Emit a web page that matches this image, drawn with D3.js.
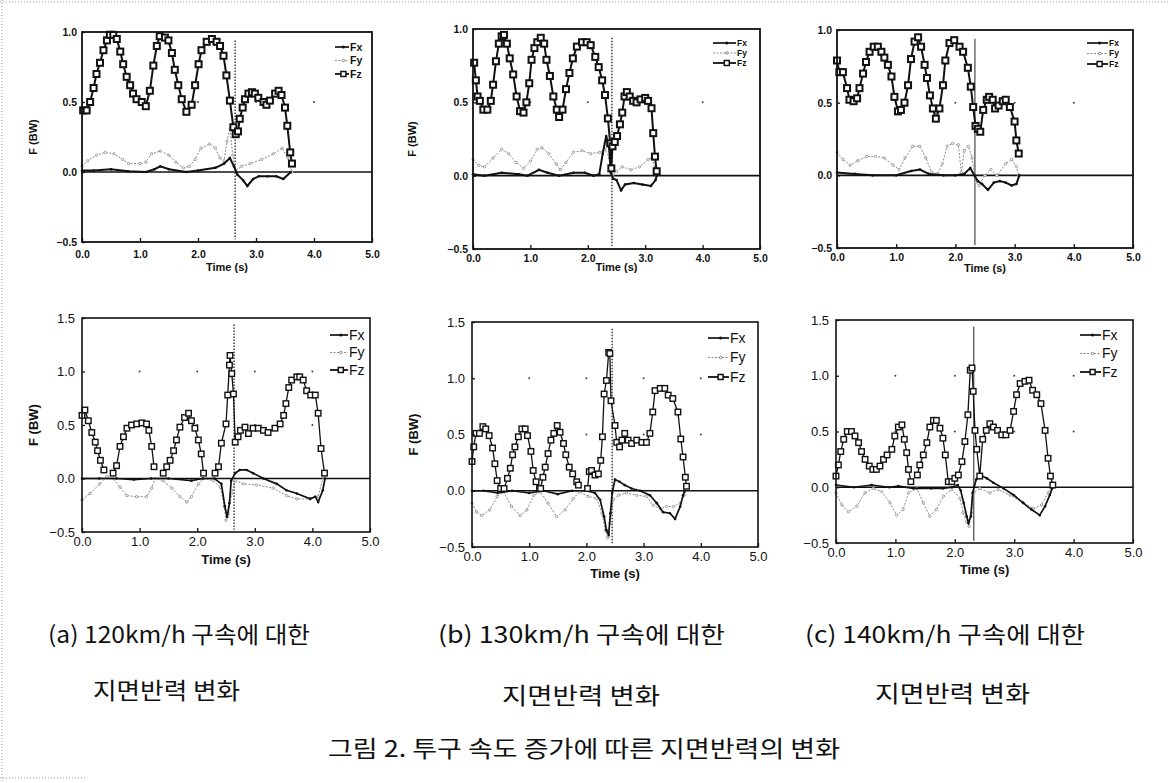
<!DOCTYPE html>
<html>
<head>
<meta charset="utf-8">
<script src="https://cdn.jsdelivr.net/npm/d3@7"></script>
<style>
  html, body { margin: 0; padding: 0; background: #fff; }
  svg { display: block; }
</style>
</head>
<body>
<svg id="fig" width="1168" height="783"></svg>
<script>
// ---- data (time s, force BW) ----
const xTickValues = [0, 1, 2, 3, 4, 5]
const topYTickValues = [-0.5, 0, 0.5, 1.0]
const botYTickValues = [-0.5, 0, 0.5, 1.0, 1.5]
const seriesNames = ['Fx', 'Fy', 'Fz']
const topMarkerT = [2.64, 2.42, 2.33]
const botMarkerT = [2.64, 2.45, 2.32]
const captionLines = [
  ['(a) 120km/h 구속에 대한', '지면반력 변화'],
  ['(b) 130km/h 구속에 대한', '지면반력 변화'],
  ['(c) 140km/h 구속에 대한', '지면반력 변화']
]
const figureTitle = '그림 2. 투구 속도 증가에 따른 지면반력의 변화'

// top row
const topA_Fz = [[0.02,0.44],[0.08,0.44],[0.14,0.50],[0.20,0.60],[0.25,0.70],[0.31,0.78],[0.37,0.87],[0.43,0.94],[0.48,0.98],[0.54,0.98],[0.60,0.95],[0.66,0.86],[0.71,0.77],[0.77,0.68],[0.83,0.62],[0.88,0.56],[0.94,0.52],[1.03,0.50],[1.10,0.47],[1.17,0.58],[1.23,0.76],[1.29,0.90],[1.34,0.97],[1.43,0.96],[1.49,0.94],[1.55,0.85],[1.60,0.73],[1.66,0.62],[1.72,0.52],[1.80,0.43],[1.89,0.48],[1.95,0.62],[2.01,0.77],[2.06,0.87],[2.15,0.93],[2.24,0.95],[2.32,0.93],[2.38,0.90],[2.44,0.83],[2.49,0.69],[2.55,0.51],[2.61,0.32],[2.65,0.27],[2.69,0.29],[2.72,0.38],[2.77,0.46],[2.81,0.52],[2.87,0.56],[2.93,0.57],[2.98,0.56],[3.04,0.53],[3.13,0.50],[3.18,0.48],[3.24,0.51],[3.33,0.56],[3.39,0.58],[3.44,0.55],[3.50,0.46],[3.54,0.33],[3.59,0.14],[3.62,0.06]]
const topA_Fy = [[0.0,0.04],[0.1,0.08],[0.25,0.12],[0.4,0.14],[0.55,0.13],[0.7,0.09],[0.8,0.06],[1.0,0.06],[1.1,0.07],[1.2,0.13],[1.35,0.15],[1.5,0.12],[1.62,0.07],[1.75,0.03],[1.85,0.04],[1.95,0.09],[2.05,0.17],[2.2,0.20],[2.3,0.17],[2.38,0.10],[2.45,0.08],[2.5,0.22],[2.55,0.31],[2.6,0.12],[2.65,0.01],[2.75,0.04],[2.9,0.06],[3.1,0.09],[3.3,0.13],[3.45,0.17],[3.55,0.10],[3.62,0.0]]
const topA_Fx = [[0.0,0.01],[0.2,0.01],[0.5,0.02],[0.8,0.005],[1.1,0.0],[1.25,0.02],[1.35,0.04],[1.5,0.02],[1.8,0.0],[2.0,0.01],[2.3,0.03],[2.45,0.06],[2.55,0.1],[2.62,0.04],[2.68,-0.02],[2.78,-0.06],[2.85,-0.1],[2.95,-0.05],[3.05,-0.03],[3.2,-0.03],[3.35,-0.03],[3.47,-0.05],[3.6,0.0]]

const topB_Fz = [[0.02,0.77],[0.05,0.65],[0.08,0.54],[0.12,0.51],[0.18,0.45],[0.25,0.45],[0.31,0.51],[0.35,0.62],[0.40,0.78],[0.45,0.90],[0.50,0.95],[0.54,0.96],[0.59,0.90],[0.64,0.80],[0.70,0.69],[0.76,0.54],[0.82,0.44],[0.88,0.43],[0.93,0.50],[0.98,0.63],[1.02,0.79],[1.07,0.87],[1.12,0.91],[1.18,0.94],[1.24,0.90],[1.28,0.79],[1.34,0.68],[1.40,0.54],[1.46,0.45],[1.50,0.40],[1.56,0.45],[1.62,0.59],[1.68,0.70],[1.74,0.80],[1.81,0.88],[1.90,0.91],[1.98,0.91],[2.05,0.89],[2.13,0.81],[2.19,0.74],[2.25,0.65],[2.30,0.55],[2.35,0.39],[2.39,0.22],[2.41,0.05],[2.43,0.20],[2.47,0.23],[2.51,0.27],[2.56,0.35],[2.60,0.43],[2.64,0.54],[2.68,0.57],[2.73,0.54],[2.79,0.51],[2.85,0.50],[2.92,0.52],[3.00,0.53],[3.05,0.51],[3.11,0.46],[3.14,0.29],[3.17,0.13],[3.20,0.03]]
const topB_Fy = [[0.0,0.11],[0.1,0.07],[0.2,0.06],[0.35,0.12],[0.5,0.18],[0.62,0.15],[0.75,0.09],[0.88,0.05],[1.0,0.10],[1.12,0.18],[1.2,0.19],[1.32,0.15],[1.45,0.08],[1.52,0.04],[1.62,0.09],[1.75,0.16],[1.9,0.17],[2.05,0.15],[2.2,0.16],[2.3,0.18],[2.38,0.12],[2.43,0.0],[2.5,0.03],[2.6,0.06],[2.75,0.04],[2.9,0.06],[3.05,0.11],[3.12,0.12],[3.17,0.05],[3.2,0.0]]
const topB_Fx = [[0.0,0.01],[0.2,0.0],[0.5,0.02],[0.8,0.01],[0.95,0.0],[1.15,0.04],[1.3,0.02],[1.5,0.0],[1.75,0.02],[1.95,0.02],[2.1,0.0],[2.2,0.01],[2.26,0.15],[2.32,0.27],[2.37,0.2],[2.4,0.02],[2.44,-0.02],[2.5,-0.03],[2.58,-0.1],[2.65,-0.06],[2.8,-0.05],[2.95,-0.06],[3.1,-0.07],[3.18,-0.03],[3.2,0.0]]

const topC_Fz = [[0.0,0.79],[0.04,0.71],[0.10,0.71],[0.17,0.60],[0.21,0.52],[0.28,0.51],[0.34,0.53],[0.38,0.60],[0.44,0.70],[0.49,0.78],[0.55,0.85],[0.62,0.885],[0.69,0.885],[0.75,0.85],[0.80,0.81],[0.86,0.76],[0.92,0.68],[0.97,0.54],[1.03,0.44],[1.08,0.45],[1.14,0.50],[1.20,0.62],[1.25,0.80],[1.31,0.92],[1.37,0.95],[1.42,0.885],[1.48,0.76],[1.52,0.67],[1.57,0.55],[1.62,0.46],[1.67,0.39],[1.73,0.46],[1.79,0.62],[1.83,0.79],[1.90,0.91],[1.98,0.93],[2.07,0.885],[2.13,0.85],[2.21,0.74],[2.26,0.61],[2.30,0.47],[2.34,0.34],[2.38,0.32],[2.42,0.30],[2.47,0.45],[2.53,0.52],[2.57,0.54],[2.63,0.52],[2.67,0.46],[2.73,0.48],[2.80,0.51],[2.85,0.52],[2.92,0.47],[3.00,0.37],[3.03,0.24],[3.07,0.15]]
const topC_Fy = [[0.0,0.16],[0.1,0.11],[0.22,0.07],[0.35,0.10],[0.5,0.13],[0.65,0.13],[0.8,0.12],[0.95,0.07],[1.05,0.04],[1.15,0.12],[1.28,0.20],[1.4,0.20],[1.5,0.12],[1.6,0.02],[1.7,0.01],[1.78,0.08],[1.86,0.2],[1.95,0.22],[2.05,0.21],[2.1,0.02],[2.15,0.17],[2.22,0.2],[2.28,0.12],[2.35,-0.05],[2.4,-0.07],[2.5,0.0],[2.6,0.04],[2.7,0.0],[2.85,0.08],[2.95,0.11],[3.03,0.06],[3.07,0.0]]
const topC_Fx = [[0.0,0.02],[0.3,0.01],[0.6,0.0],[1.0,0.0],[1.25,0.03],[1.4,0.04],[1.55,0.01],[1.8,0.0],[2.0,0.0],[2.15,0.01],[2.25,0.05],[2.32,0.0],[2.38,-0.04],[2.45,-0.06],[2.55,-0.1],[2.65,-0.05],[2.75,-0.04],[2.85,-0.05],[2.95,-0.07],[3.03,-0.06],[3.08,0.0]]

// bottom row (null = gap between foot contacts)
const botA_Fz = [[0,0.59],[0.05,0.64],[0.11,0.54],[0.17,0.43],[0.23,0.34],[0.27,0.26],[0.32,0.17],[0.38,0.08],null,[0.54,0.05],[0.60,0.12],[0.66,0.30],[0.72,0.39],[0.78,0.47],[0.86,0.50],[0.95,0.51],[1.04,0.52],[1.12,0.51],[1.16,0.45],[1.21,0.30],[1.25,0.11],null,[1.41,0.05],[1.47,0.11],[1.53,0.17],[1.59,0.26],[1.64,0.36],[1.70,0.48],[1.78,0.57],[1.85,0.61],[1.90,0.54],[1.96,0.47],[2.02,0.36],[2.07,0.23],[2.11,0.05],null,[2.31,0.05],[2.37,0.11],[2.42,0.33],[2.50,0.51],[2.53,0.78],[2.56,1.06],[2.57,1.15],[2.60,0.98],[2.63,0.79],[2.66,0.34],[2.71,0.39],[2.75,0.45],[2.83,0.48],[2.89,0.42],[2.97,0.47],[3.06,0.47],[3.15,0.45],[3.23,0.43],[3.35,0.47],[3.44,0.51],[3.50,0.59],[3.54,0.70],[3.59,0.85],[3.64,0.92],[3.73,0.95],[3.78,0.95],[3.84,0.92],[3.90,0.82],[3.97,0.78],[4.05,0.78],[4.10,0.61],[4.15,0.28],[4.21,0.05]]
const botA_Fy = [[0,-0.20],[0.14,-0.14],[0.31,-0.05],[0.43,0.02],[0.54,0.0],[0.66,-0.08],[0.78,-0.16],[0.95,-0.17],[1.12,-0.17],[1.21,-0.09],[1.27,0.0],[1.41,-0.02],[1.56,-0.09],[1.70,-0.17],[1.82,-0.22],[1.90,-0.17],[2.02,-0.05],[2.11,0.0],[2.28,-0.02],[2.40,-0.08],[2.47,-0.26],[2.50,-0.39],[2.54,-0.33],[2.60,-0.14],[2.66,-0.02],[2.80,-0.05],[3.03,-0.06],[3.32,-0.09],[3.55,-0.16],[3.73,-0.19],[3.96,-0.19],[4.10,-0.17],[4.19,0.02]]
const botA_Fx = [[0,0.0],[0.3,0.0],[0.6,0.0],[0.9,-0.01],[1.2,0.0],[1.5,0.0],[1.9,-0.02],[2.1,0.0],[2.3,0.0],[2.42,-0.05],[2.48,-0.26],[2.52,-0.36],[2.56,-0.23],[2.59,-0.02],[2.66,0.05],[2.74,0.08],[2.86,0.08],[2.97,0.05],[3.15,0.0],[3.38,-0.05],[3.55,-0.11],[3.73,-0.14],[3.96,-0.19],[4.05,-0.17],[4.10,-0.22],[4.18,-0.11],[4.22,0.0]]

const botB_Fz = [[0,0.26],[0.03,0.39],[0.07,0.51],[0.13,0.51],[0.19,0.57],[0.24,0.55],[0.30,0.49],[0.36,0.38],[0.40,0.24],[0.44,0.09],[0.50,0.02],null,[0.56,0.02],[0.62,0.11],[0.67,0.20],[0.71,0.32],[0.75,0.39],[0.81,0.48],[0.87,0.55],[0.93,0.55],[0.97,0.49],[1.03,0.35],[1.07,0.18],[1.12,0.08],[1.18,0.02],null,[1.20,0.02],[1.24,0.12],[1.28,0.21],[1.33,0.33],[1.38,0.45],[1.43,0.51],[1.49,0.58],[1.54,0.52],[1.60,0.42],[1.64,0.32],[1.70,0.21],[1.76,0.15],[1.83,0.08],[1.86,0.05],null,[2.02,0.02],[2.05,0.17],[2.09,0.18],[2.15,0.14],[2.21,0.15],[2.25,0.27],[2.28,0.48],[2.31,0.86],[2.35,0.98],[2.39,1.23],[2.41,1.22],[2.43,0.80],[2.50,0.58],[2.53,0.43],[2.58,0.39],[2.62,0.45],[2.67,0.51],[2.73,0.45],[2.79,0.42],[2.88,0.45],[2.97,0.43],[3.05,0.43],[3.11,0.51],[3.16,0.70],[3.20,0.89],[3.29,0.91],[3.37,0.91],[3.43,0.85],[3.51,0.82],[3.60,0.70],[3.65,0.46],[3.69,0.30],[3.73,0.12],[3.75,0.04]]
const botB_Fy = [[0,-0.11],[0.08,-0.19],[0.17,-0.22],[0.31,-0.17],[0.44,-0.05],[0.55,-0.01],[0.69,-0.14],[0.84,-0.22],[0.96,-0.17],[1.08,-0.04],[1.19,-0.01],[1.33,-0.11],[1.48,-0.23],[1.63,-0.17],[1.77,-0.07],[1.88,-0.01],[2.03,-0.05],[2.18,-0.07],[2.27,-0.20],[2.33,-0.35],[2.37,-0.42],[2.41,-0.29],[2.47,-0.08],[2.56,-0.04],[2.70,-0.02],[2.88,-0.04],[3.05,-0.05],[3.17,-0.13],[3.29,-0.16],[3.40,-0.14],[3.52,-0.14],[3.64,-0.11],[3.71,-0.04],[3.72,-0.01]]
const botB_Fx = [[0,0.0],[0.2,0.0],[0.45,-0.02],[0.7,0.0],[1.0,-0.02],[1.25,0.0],[1.5,-0.03],[1.75,0.0],[2.0,0.0],[2.15,-0.02],[2.24,-0.08],[2.31,-0.23],[2.35,-0.35],[2.39,-0.39],[2.42,-0.20],[2.45,-0.02],[2.50,0.10],[2.58,0.08],[2.67,0.05],[2.79,0.02],[2.94,0.0],[3.11,-0.04],[3.23,-0.11],[3.34,-0.19],[3.46,-0.20],[3.55,-0.25],[3.64,-0.14],[3.69,-0.04],[3.72,0.0]]

const botC_Fz = [[0,0.10],[0.04,0.20],[0.08,0.32],[0.13,0.43],[0.19,0.50],[0.26,0.50],[0.32,0.46],[0.38,0.40],[0.43,0.32],[0.49,0.25],[0.56,0.19],[0.62,0.16],[0.68,0.16],[0.74,0.19],[0.80,0.25],[0.86,0.29],[0.94,0.34],[0.99,0.46],[1.05,0.54],[1.11,0.56],[1.15,0.43],[1.19,0.31],[1.22,0.16],[1.26,0.05],null,[1.37,0.11],[1.41,0.20],[1.47,0.29],[1.53,0.40],[1.58,0.54],[1.64,0.60],[1.69,0.60],[1.75,0.53],[1.80,0.44],[1.84,0.29],[1.89,0.05],null,[1.95,0.05],[2.00,0.08],[2.06,0.11],[2.12,0.23],[2.17,0.41],[2.22,0.65],[2.26,1.05],[2.29,1.07],[2.31,0.86],[2.34,0.51],[2.37,0.34],[2.42,0.10],[2.47,0.43],[2.53,0.51],[2.59,0.57],[2.65,0.54],[2.72,0.51],[2.79,0.47],[2.86,0.47],[2.93,0.51],[2.99,0.68],[3.04,0.83],[3.10,0.93],[3.18,0.95],[3.25,0.96],[3.31,0.87],[3.38,0.83],[3.45,0.75],[3.52,0.51],[3.57,0.26],[3.61,0.10],[3.65,0.02]]
const botC_Fy = [[0,-0.05],[0.10,-0.16],[0.21,-0.22],[0.35,-0.17],[0.49,-0.05],[0.63,-0.01],[0.77,-0.04],[0.91,-0.14],[1.02,-0.25],[1.13,-0.20],[1.22,-0.05],[1.36,-0.01],[1.47,-0.14],[1.58,-0.26],[1.69,-0.20],[1.81,-0.08],[1.95,-0.02],[2.09,-0.10],[2.14,-0.23],[2.20,-0.31],[2.24,-0.35],[2.28,-0.23],[2.32,-0.05],[2.42,-0.01],[2.59,-0.05],[2.73,-0.02],[2.93,-0.07],[3.15,-0.14],[3.32,-0.19],[3.46,-0.16],[3.57,-0.05],[3.63,-0.01]]
const botC_Fx = [[0,0.02],[0.3,0.0],[0.6,0.02],[0.9,0.0],[1.05,0.01],[1.3,-0.01],[1.6,-0.01],[1.8,-0.01],[1.95,0.0],[2.05,0.02],[2.10,-0.03],[2.15,-0.14],[2.20,-0.26],[2.23,-0.32],[2.27,-0.26],[2.30,-0.05],[2.36,0.07],[2.42,0.11],[2.54,0.08],[2.65,0.04],[2.82,-0.01],[2.99,-0.07],[3.15,-0.14],[3.29,-0.20],[3.43,-0.25],[3.52,-0.17],[3.60,-0.07],[3.64,-0.01]]

// ---- layout ----
const TOP = { tickFont: 'bold 10.5px "Liberation Sans", sans-serif',
  titleFont: 'bold 11px "Liberation Sans", sans-serif',
  frameW: 1.8, fzW: 2, sq: 6, sqW: 2, fxW: 2, yPad: 5 }
const BOT = { tickFont: '13px "Liberation Sans", sans-serif',
  titleFont: 'bold 13px "Liberation Sans", sans-serif',
  frameW: 1.6, fzW: 1.3, sq: 5.5, sqW: 1.4, fxW: 1.7, yPad: 7 }

const panels = [
  { box: [82, 32, 372, 242], yDom: [-0.5, 1.0], yTicks: topYTickValues, st: TOP, mark: topMarkerT[0], dashed: true,
    data: [topA_Fx, topA_Fy, topA_Fz], yLabelX: 33, leg: [335, 47, 13.5, 14], legSize: 10.5, xPad: 9, titleDy: 29 },
  { box: [473, 29, 760, 249], yDom: [-0.5, 1.0], yTicks: topYTickValues, st: TOP, mark: topMarkerT[1], dashed: true,
    data: [topB_Fx, topB_Fy, topB_Fz], yLabelX: 412, leg: [713, 43, 10, 23], legSize: 8.5, xPad: 6, titleDy: 22 },
  { box: [837, 30, 1133, 248], yDom: [-0.5, 1.0], yTicks: topYTickValues, st: TOP, mark: topMarkerT[2], dashed: false,
    data: [topC_Fx, topC_Fy, topC_Fz], yLabelX: null, leg: [1087, 43, 10.5, 21], legSize: 8.5, xPad: 6, titleDy: 24 },
  { box: [82, 318, 370, 532], yDom: [-0.5, 1.5], yTicks: botYTickValues, st: BOT, mark: botMarkerT[0], dashed: true,
    data: [botA_Fx, botA_Fy, botA_Fz], yLabelX: 33, leg: [330, 335, 17.5, 18], legSize: 14, xPad: 5, titleDy: 32 },
  { box: [472, 322, 758, 547], yDom: [-0.5, 1.5], yTicks: botYTickValues, st: BOT, mark: botMarkerT[1], dashed: true,
    data: [botB_Fx, botB_Fy, botB_Fz], yLabelX: 413, leg: [708, 338, 19.5, 21], legSize: 14, xPad: 5, titleDy: 31 },
  { box: [836, 320, 1133, 543], yDom: [-0.5, 1.5], yTicks: botYTickValues, st: BOT, mark: botMarkerT[2], dashed: false,
    data: [botC_Fx, botC_Fy, botC_Fz], yLabelX: null, leg: [1080, 335, 18.5, 21], legSize: 14, xPad: 5, titleDy: 31 }
]

const svg = d3.select('#fig')

// scan border remnants
svg.append('line').attr('x1', 2).attr('x2', 2).attr('y1', 0).attr('y2', 783)
  .attr('stroke', '#9a9a9a').attr('stroke-dasharray', '1,2')
svg.append('line').attr('x1', 0).attr('x2', 1168).attr('y1', 2).attr('y2', 2)
  .attr('stroke', '#9a9a9a').attr('stroke-dasharray', '1,2')
svg.append('line').attr('x1', 0).attr('x2', 85).attr('y1', 778).attr('y2', 778)
  .attr('stroke', '#9a9a9a').attr('stroke-dasharray', '1,2')

const lineGen = (x, y) => d3.line().defined(d => d !== null).x(d => x(d[0])).y(d => y(d[1]))

function drawSeries(g, x, y, series, kind, st) {
  const pts = series.filter(d => d !== null)
  if (kind === 'Fy') {
    g.append('path').attr('d', lineGen(x, y)(series)).attr('fill', 'none')
      .attr('stroke', '#8a8a8a').attr('stroke-width', 1).attr('stroke-dasharray', '2,1.5')
    g.selectAll(null).data(pts).join('circle')
      .attr('cx', d => x(d[0])).attr('cy', d => y(d[1])).attr('r', 1.2)
      .attr('fill', '#fff').attr('stroke', '#8a8a8a').attr('stroke-width', 0.8)
  } else if (kind === 'Fx') {
    g.append('path').attr('d', lineGen(x, y)(series)).attr('fill', 'none')
      .attr('stroke', '#111').attr('stroke-width', st.fxW)
    g.selectAll(null).data(pts).join('circle')
      .attr('cx', d => x(d[0])).attr('cy', d => y(d[1])).attr('r', 1.3).attr('fill', '#111')
  } else {
    g.append('path').attr('d', lineGen(x, y)(series)).attr('fill', 'none')
      .attr('stroke', '#111').attr('stroke-width', st.fzW)
    g.selectAll(null).data(pts).join('rect')
      .attr('x', d => x(d[0]) - st.sq / 2).attr('y', d => y(d[1]) - st.sq / 2)
      .attr('width', st.sq).attr('height', st.sq)
      .attr('fill', '#fff').attr('stroke', '#111').attr('stroke-width', st.sqW)
  }
}

function drawPanel(p) {
  const [x0, y0, x1, y1] = p.box
  const st = p.st
  const x = d3.scaleLinear().domain([0, 5]).range([x0, x1])
  const y = d3.scaleLinear().domain(p.yDom).range([y1, y0])
  const g = svg.append('g')

  // faint grid dots left by the scan
  const dotYs = p.yTicks.filter(v => v > 0 && v < p.yDom[1])
  dotYs.forEach(v => xTickValues.slice(1, 5).forEach(t => {
    g.append('circle').attr('cx', x(t)).attr('cy', y(v)).attr('r', 1).attr('fill', '#444')
  }))

  // zero line
  g.append('line').attr('x1', x0).attr('x2', x1).attr('y1', y(0)).attr('y2', y(0))
    .attr('stroke', '#111').attr('stroke-width', 1.6)

  // release marker line
  g.append('line').attr('x1', x(p.mark)).attr('x2', x(p.mark))
    .attr('y1', y(p.yDom[1] - 0.06)).attr('y2', y(p.yDom[0] + 0.02))
    .attr('stroke', '#222').attr('stroke-width', p.dashed ? 1.3 : 1)
    .attr('stroke-dasharray', p.dashed ? '1.5,1.5' : null)

  drawSeries(g, x, y, p.data[1], 'Fy', st)
  drawSeries(g, x, y, p.data[0], 'Fx', st)
  drawSeries(g, x, y, p.data[2], 'Fz', st)

  // frame
  g.append('rect').attr('x', x0).attr('y', y0).attr('width', x1 - x0).attr('height', y1 - y0)
    .attr('fill', 'none').attr('stroke', '#111').attr('stroke-width', st.frameW)

  // axes
  const ax = g.append('g').attr('transform', `translate(0,${y1})`)
    .call(d3.axisBottom(x).tickValues(xTickValues).tickFormat(d3.format('.1f')).tickSize(-4).tickPadding(p.xPad))
  const ay = g.append('g').attr('transform', `translate(${x0},0)`)
    .call(d3.axisLeft(y).tickValues(p.yTicks).tickFormat(d3.format('.1f')).tickSize(-3).tickPadding(st.yPad))
  ;[ax, ay].forEach(a => {
    a.select('.domain').remove()
    a.selectAll('line').attr('stroke', '#111').attr('stroke-width', 1.3)
    a.selectAll('text').attr('fill', '#111').style('font', st.tickFont)
  })

  // titles
  g.append('text').attr('x', (x0 + x1) / 2).attr('y', y1 + p.titleDy)
    .attr('text-anchor', 'middle').style('font', st.titleFont).attr('fill', '#111').text('Time (s)')
  if (p.yLabelX !== null) {
    g.append('text').attr('transform', `translate(${p.yLabelX},${(y0 + y1) / 2}) rotate(-90)`)
      .attr('text-anchor', 'middle').attr('dy', '0.35em').style('font', st.titleFont)
      .attr('fill', '#111').text('F (BW)')
  }

  // legend
  const [lx, ly, ldy, lw] = p.leg
  const legFont = `${st === TOP ? 'bold ' : ''}${p.legSize}px "Liberation Sans", sans-serif`
  seriesNames.forEach((name, i) => {
    const yy = ly + i * ldy
    const lg = g.append('g')
    if (name === 'Fy') {
      lg.append('line').attr('x1', lx).attr('x2', lx + lw).attr('y1', yy).attr('y2', yy)
        .attr('stroke', '#8a8a8a').attr('stroke-dasharray', '2,1.5')
      lg.append('circle').attr('cx', lx + lw * 0.6).attr('cy', yy).attr('r', 1.3)
        .attr('fill', '#fff').attr('stroke', '#8a8a8a')
    } else if (name === 'Fx') {
      lg.append('line').attr('x1', lx).attr('x2', lx + lw).attr('y1', yy).attr('y2', yy)
        .attr('stroke', '#111').attr('stroke-width', 1.7)
      lg.append('circle').attr('cx', lx + lw * 0.6).attr('cy', yy).attr('r', 1.5).attr('fill', '#111')
    } else {
      lg.append('line').attr('x1', lx).attr('x2', lx + lw).attr('y1', yy).attr('y2', yy)
        .attr('stroke', '#111').attr('stroke-width', 1.8)
      lg.append('rect').attr('x', lx + lw * 0.6 - 2.5).attr('y', yy - 2.5).attr('width', 5).attr('height', 5)
        .attr('fill', '#fff').attr('stroke', '#111').attr('stroke-width', 1.5)
    }
    lg.append('text').attr('x', lx + lw + 1).attr('y', yy).attr('dy', '0.35em')
      .style('font', legFont).attr('fill', '#111').text(name)
  })
}

panels.forEach(drawPanel)

// captions
const capFont = '"Noto Sans CJK KR", sans-serif'
const capPos = [
  [[48, 643, 262], [93, 699, 147]],
  [[438, 643, 287], [502, 704, 158]],
  [[805, 643, 280], [875, 702, 155]]
]
captionLines.forEach((lines, i) => {
  lines.forEach((s, j) => {
    const [cx, cy, w] = capPos[i][j]
    svg.append('text').attr('x', cx).attr('y', cy).attr('textLength', w)
      .attr('lengthAdjust', 'spacingAndGlyphs')
      .style('font-family', capFont).style('font-size', '23px').attr('fill', '#111').text(s)
  })
})
svg.append('text').attr('x', 328).attr('y', 757).attr('textLength', 512)
  .attr('lengthAdjust', 'spacingAndGlyphs')
  .style('font-family', capFont).style('font-size', '23px').attr('fill', '#111').text(figureTitle)
</script>
</body>
</html>
